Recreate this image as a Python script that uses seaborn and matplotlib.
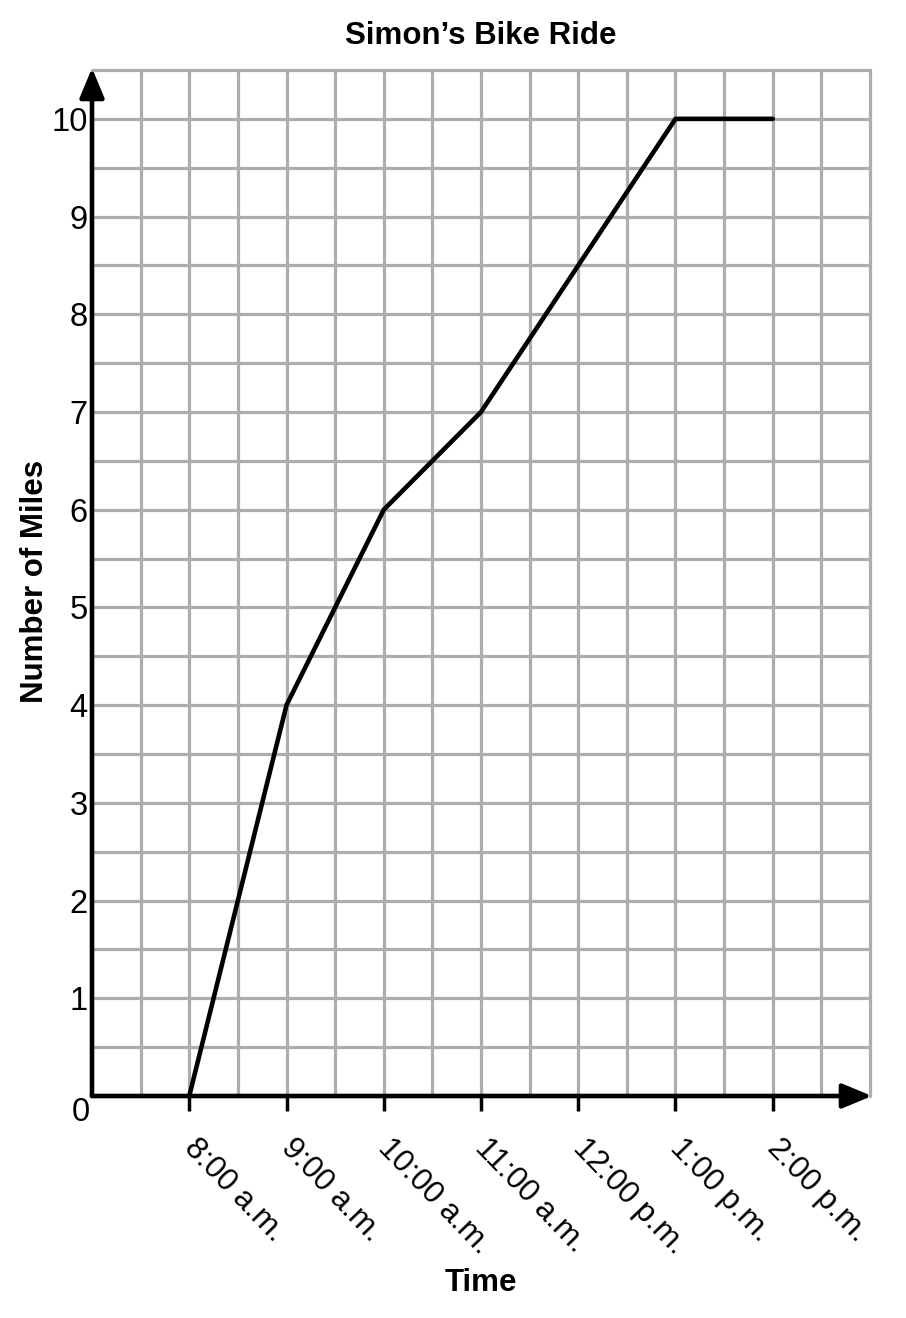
import numpy as np
import pandas as pd
import matplotlib
matplotlib.use('Agg')
import matplotlib.pyplot as plt
import matplotlib.transforms as mtransforms
import seaborn as sns

# data (time in hours of the day)
hours = [8, 9, 10, 11, 13, 14]
miles = [0, 4, 6, 7, 10, 10]
tick_hours = [8, 9, 10, 11, 12, 13, 14]
tick_labels = ['8:00 a.m.', '9:00 a.m.', '10:00 a.m.', '11:00 a.m.',
               '12:00 p.m.', '1:00 p.m.', '2:00 p.m.']
mile_ticks = [1, 2, 3, 4, 5, 6, 7, 8, 9, 10]

ride = pd.DataFrame({'hour': hours, 'miles': miles})

sns.set_style('white')
plt.rcParams['font.family'] = ['Liberation Sans', 'DejaVu Sans']
plt.rcParams['text.color'] = 'black'
plt.rcParams['axes.labelcolor'] = 'black'
plt.rcParams['xtick.color'] = 'black'
plt.rcParams['ytick.color'] = 'black'

fig = plt.figure(figsize=(9.06, 13.18), dpi=100)
ax = fig.add_axes([92/906, (1318-1096)/1318, (870-92)/906, (1096-70)/1318])

ax.set_xlim(7, 15)
ax.set_ylim(0, 10.5)

# grid every half hour / half mile
for gx in np.arange(7.5, 15.01, 0.5):
    ax.axvline(gx, color='#adadad', linewidth=2.3, clip_on=False, zorder=1)
for gy in np.arange(0.5, 10.51, 0.5):
    ax.axhline(gy, color='#adadad', linewidth=2.3, clip_on=False, zorder=1)

sns.lineplot(data=ride, x='hour', y='miles', color='black', linewidth=3.3,
             ax=ax, zorder=5)
ax.set_xlabel('')
ax.set_ylabel('')

for s in ax.spines.values():
    s.set_visible(False)

ax.set_xticks(tick_hours)
ax.set_xticklabels(tick_labels, rotation=-46, ha='left', rotation_mode='anchor',
                   fontsize=22.5)
ax.tick_params(axis='x', which='major', direction='out', length=11, width=2.5,
               color='black', pad=16, bottom=True)
shift = mtransforms.ScaledTranslation(10/100, 0, fig.dpi_scale_trans)
for lab in ax.get_xticklabels():
    lab.set_transform(lab.get_transform() + shift)

ax.set_yticks(mile_ticks)
ax.set_yticklabels([str(v) for v in mile_ticks], fontsize=23.5)
ax.tick_params(axis='y', which='both', length=0, pad=3)
ax.text(-0.003, -0.016, '0', transform=ax.transAxes, ha='right', va='center',
        fontsize=23.5)

# axes with arrow heads
arrow = dict(arrowstyle='-|>,head_length=0.6,head_width=0.25', color='black',
             lw=3.3, mutation_scale=30, shrinkA=0, shrinkB=0)
ax.annotate('', xy=(15.02, 0), xytext=(7, 0), arrowprops=arrow,
            annotation_clip=False, zorder=6)
ax.annotate('', xy=(7, 10.52), xytext=(7, 0), arrowprops=arrow,
            annotation_clip=False, zorder=6)

fig.text(481/906, 1 - 1283/1318, 'Time', ha='center', va='center',
         fontsize=22.5, fontweight='bold')
fig.text(35/906, 1 - 581/1318, 'Number of Miles', ha='center', va='center',
         rotation=90, fontsize=22.5, fontweight='bold')
fig.text(481/906, 1 - 36/1318, 'Simon\u2019s Bike Ride', ha='center',
         va='center', fontsize=22.5, fontweight='bold')

fig.savefig('out.png', dpi=100, facecolor='white')
